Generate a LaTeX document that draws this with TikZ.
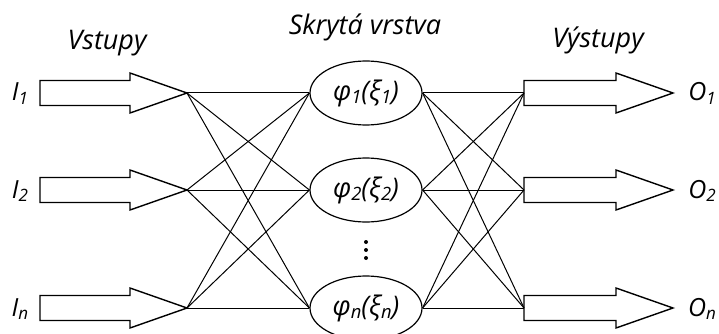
\documentclass[tikz,border=0pt]{standalone}
\usepackage{fontspec}
\setmainfont{Open Sans}
\usetikzlibrary{shapes.geometric}
\newcommand\lsub[1]{\raisebox{-0.25ex}{\scalebox{0.68}{#1}}}
\tikzset{
  conn/.style={line width=1pt},
  arr/.style={line width=1.4pt, line join=miter, fill=white},
  neuron/.style={ellipse, draw, line width=1.2pt, fill=white, minimum width=112pt, minimum height=64pt, inner sep=0pt, font=\fontsize{27}{27}\selectfont\itshape},
  lab/.style={font=\fontsize{25}{25}\selectfont\itshape, inner sep=0pt, anchor=base},
  ttl/.style={font=\fontsize{27}{27}\selectfont\itshape, inner sep=0pt, anchor=base},
  dotm/.style={fill=black, circle, inner sep=0pt, minimum size=4pt}
}
\begin{document}
\begin{tikzpicture}[x=1pt,y=-1pt]
\useasboundingbox (0,0) rectangle (719,334);
% titles
\node[ttl] (t1) at (107,50) {Vstupy};
\node[ttl] (t2) at (365,35) {Skrytá vrstva};
\node[ttl] (t3) at (598,48) {Výstupy};
% rows
\foreach \y/\n in {93/1,190/2,308/n}{
  \coordinate (in\n) at (187,\y);
  \coordinate (out\n) at (524,\y);
  \node[neuron] (h\n) at (366,\y) {φ\lsub{\n}(ξ\lsub{\n})};
  \draw[arr] (in\n) -- ++(-57,-20) -- ++(0,7.5) -- ++(-90,0) -- ++(0,25) -- ++(90,0) -- ++(0,7.5) -- cycle;
  \draw[arr] (out\n) -- ++(0,-12.5) -- ++(92,0) -- ++(0,-7.5) -- ++(57,20) -- ++(-57,20) -- ++(0,-7.5) -- ++(-92,0) -- cycle;
  \node[lab] (li\n) at (20,\y+8) {I\lsub{\n}};
  \node[lab] (lo\n) at (702,\y+8) {O\lsub{\n}};
}
% connections
\foreach \a in {1,2,n}{
  \foreach \b in {1,2,n}{
    \draw[conn] (in\a) -- (h\b.west);
    \draw[conn] (h\a.east) -- (out\b);
  }
}
% dots
\node[dotm] (d1) at (366,242) {};
\node[dotm] (d2) at (366,250) {};
\node[dotm] (d3) at (366,258) {};
\end{tikzpicture}
\end{document}
